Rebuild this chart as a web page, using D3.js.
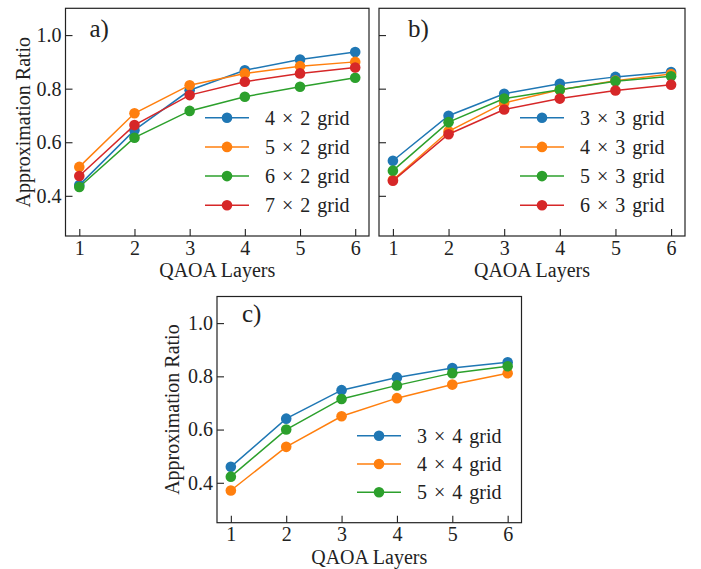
<!DOCTYPE html>
<html>
<head>
<meta charset="utf-8">
<script src="https://cdn.jsdelivr.net/npm/d3@7"></script>
<style>
  html, body { margin: 0; padding: 0; background: #fff; }
  svg text { font-family: "Liberation Serif", "DejaVu Serif", serif; fill: #222; }
</style>
</head>
<body>
<svg id="chart" width="701" height="569"></svg>
<script>
// QAOA layer counts shared by every panel
const layers = [1, 2, 3, 4, 5, 6];
const yTicks = [0.4, 0.6, 0.8, 1.0];

// Panel a: N x 2 grids
const gridsA = ["4 \u00d7 2 grid", "5 \u00d7 2 grid", "6 \u00d7 2 grid", "7 \u00d7 2 grid"];
const ratio4x2 = [0.440, 0.645, 0.794, 0.869, 0.909, 0.937];
const ratio5x2 = [0.508, 0.708, 0.813, 0.857, 0.884, 0.900];
const ratio6x2 = [0.433, 0.617, 0.717, 0.770, 0.807, 0.841];
const ratio7x2 = [0.474, 0.664, 0.776, 0.826, 0.857, 0.879];

// Panel b: N x 3 grids
const gridsB = ["3 \u00d7 3 grid", "4 \u00d7 3 grid", "5 \u00d7 3 grid", "6 \u00d7 3 grid"];
const ratio3x3 = [0.531, 0.699, 0.781, 0.818, 0.844, 0.862];
const ratio4x3 = [0.459, 0.641, 0.747, 0.796, 0.830, 0.855];
const ratio5x3 = [0.494, 0.675, 0.763, 0.796, 0.828, 0.846];
const ratio6x3 = [0.456, 0.630, 0.722, 0.763, 0.793, 0.815];

// Panel c: N x 4 grids
const gridsC = ["3 \u00d7 4 grid", "4 \u00d7 4 grid", "5 \u00d7 4 grid"];
const ratio3x4 = [0.460, 0.641, 0.748, 0.796, 0.831, 0.853];
const ratio4x4 = [0.371, 0.535, 0.650, 0.718, 0.769, 0.812];
const ratio5x4 = [0.423, 0.600, 0.715, 0.766, 0.812, 0.838];

const colors = ["#1f77b4", "#ff7f0e", "#2ca02c", "#d62728"];
const FS = 20;

const svg = d3.select("#chart");

function drawPanel(cfg) {
  const { left, top, width, height, tag, names, series, legend, yLabel } = cfg;
  const g = svg.append("g").attr("transform", `translate(${left},${top})`);

  const x = d3.scaleLinear().domain([0.75, 6.25]).range([0, width]);
  const y = d3.scaleLinear().domain([0.25, 1.1]).range([height, 0]);

  // inward ticks on bottom and left
  const xAxis = d3.axisBottom(x).tickValues(layers).tickFormat(d3.format("d"))
    .tickSizeInner(-7).tickSizeOuter(0).tickPadding(4.5);
  const yAxis = d3.axisLeft(y).tickValues(yTicks)
    .tickFormat(yLabel ? d3.format(".1f") : () => "")
    .tickSizeInner(-7).tickSizeOuter(0).tickPadding(4);

  const gx = g.append("g").attr("transform", `translate(0,${height})`).call(xAxis);
  const gy = g.append("g").call(yAxis);
  [gx, gy].forEach(a => {
    a.attr("font-family", null).attr("font-size", null);
    a.select(".domain").remove();
    a.selectAll(".tick line").attr("stroke", "#222").attr("stroke-width", 1.1);
    a.selectAll(".tick text").attr("font-size", FS).style("fill", "#222");
  });
  gx.selectAll(".tick text").attr("dy", "0.71em");

  // series lines and markers
  const line = d3.line().x((d, i) => x(layers[i])).y(d => y(d));
  series.forEach((vals, si) => {
    g.append("path").datum(vals).attr("d", line)
      .attr("fill", "none").attr("stroke", colors[si]).attr("stroke-width", 1.5);
    g.selectAll(null).data(vals).enter().append("circle")
      .attr("cx", (d, i) => x(layers[i])).attr("cy", d => y(d))
      .attr("r", 5.3).attr("fill", colors[si]);
  });

  // frame
  g.append("rect").attr("width", width).attr("height", height)
    .attr("fill", "none").attr("stroke", "#222").attr("stroke-width", 1.2);

  // panel tag
  g.append("text").attr("x", tag.x).attr("y", tag.y)
    .attr("font-size", 25).text(tag.text);

  // legend
  names.forEach((name, i) => {
    const ly = legend.y + i * legend.step;
    g.append("line").attr("x1", legend.x).attr("x2", legend.x + 44)
      .attr("y1", ly).attr("y2", ly).attr("stroke", colors[i]).attr("stroke-width", 1.5);
    g.append("circle").attr("cx", legend.x + 22).attr("cy", ly).attr("r", 5.3).attr("fill", colors[i]);
    g.append("text").attr("x", legend.x + 60).attr("y", ly).attr("dy", "0.35em")
      .attr("font-size", FS).attr("word-spacing", "2px").text(name);
  });

  // axis titles
  g.append("text").attr("x", width / 2).attr("y", height + 41)
    .attr("text-anchor", "middle").attr("font-size", FS).text("QAOA Layers");
  if (yLabel) {
    g.append("text").attr("transform", `translate(${-yLabel},${height / 2}) rotate(-90)`)
      .attr("text-anchor", "middle").attr("font-size", FS).text("Approximation Ratio");
  }
}

drawPanel({
  left: 65.5, top: 8.3, width: 303.5, height: 227.7,
  tag: { x: 24, y: 28.5, text: "a)" },
  names: gridsA, series: [ratio4x2, ratio5x2, ratio6x2, ratio7x2],
  legend: { x: 139.5, y: 109.4, step: 29.2 }, yLabel: 36
});
drawPanel({
  left: 379, top: 8.3, width: 306, height: 227.7,
  tag: { x: 29, y: 28.5, text: "b)" },
  names: gridsB, series: [ratio3x3, ratio4x3, ratio5x3, ratio6x3],
  legend: { x: 141, y: 109.4, step: 29.2 }, yLabel: 0
});
drawPanel({
  left: 217, top: 296.5, width: 304.5, height: 226.2,
  tag: { x: 25, y: 25, text: "c)" },
  names: gridsC, series: [ratio3x4, ratio4x4, ratio5x4],
  legend: { x: 140, y: 139.2, step: 28.3 }, yLabel: 38
});
</script>
</body>
</html>
